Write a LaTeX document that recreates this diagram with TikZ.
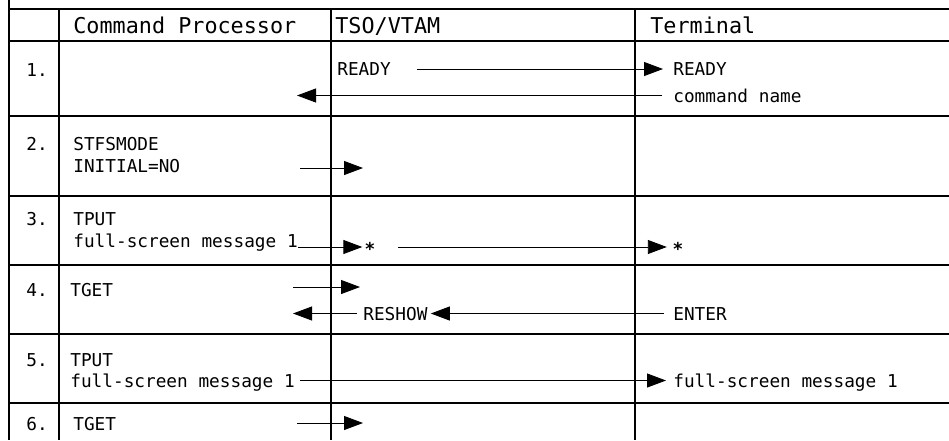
\documentclass[tikz,border=0pt]{standalone}
\usepackage{fontspec}
\setmonofont{DejaVu Sans Mono}
\usetikzlibrary{arrows.meta}
\tikzset{
  cell/.style={font=\ttfamily\fontsize{10.1}{12}\selectfont, anchor=west, inner sep=0pt, text height=0.26cm, text depth=0pt},
  head/.style={font=\ttfamily\fontsize{12.4}{14}\selectfont, anchor=base west, inner sep=0pt},
  starnode/.style={font=\ttfamily\bfseries\fontsize{10.1}{12}\selectfont, anchor=base, inner sep=0pt},
  flow/.style={line width=0.5pt, -{Triangle[length=0.38cm,width=0.28cm]}},
  rule/.style={line width=0.6pt},
}
\begin{document}
\begin{tikzpicture}[x=0.02cm,y=-0.02cm]
  \useasboundingbox (0,0) rectangle (949,440);
  %% table
  \draw[rule] (9,0) -- (9,440);
  \foreach \x in {59,331,635} \draw[rule] (\x,9) -- (\x,440);
  \foreach \y in {9,41,116,196,265,334,403} \draw[rule] (9,\y) -- (949,\y);
  %% header
  \node[head] (hcp) at (73,33) {Command Processor};
  \node[head] (htso) at (335,33) {TSO/VTAM};
  \node[head] (hterm) at (650,33) {Terminal};
  %% row 1
  \node[cell] (n1) at (26,69.5) {1.};
  \node[cell] (tsoready) at (337,69) {READY};
  \node[cell] (termready) at (673,69) {READY};
  \node[cell] (cmdname) at (673,95.5) {command name};
  \coordinate (c1) at (297,95.5);
  \draw[flow,shorten <=0.52cm,shorten >=0.2cm] (tsoready.east) -- (termready.west);
  \draw[flow,shorten <=0.22cm] (cmdname.west) -- (cmdname.west -| c1);
  %% row 2
  \node[cell] (n2) at (26,143.5) {2.};
  \node[cell] (stfs) at (73,143.5) {STFSMODE};
  \node[cell] (initial) at (73,165.5) {INITIAL=NO};
  \coordinate (a2s) at (300,168);
  \coordinate (a2e) at (363,168);
  \draw[flow] (a2s) -- (a2e);
  %% row 3
  \node[cell] (n3) at (26,218.5) {3.};
  \node[cell] (tput3) at (73,218.5) {TPUT};
  \node[cell] (msg3) at (73,240.5) {full-screen message 1};
  \node[starnode] (star1) at (370,255) {*};
  \node[starnode] (star2) at (678,255) {*};
  \coordinate (a3) at (398,247);
  \draw[flow,shorten >=0.04cm] (msg3.base east) -- (msg3.base east -| star1.west);
  \draw[flow,shorten >=0.11cm] (a3) -- (a3 -| star2.west);
  %% row 4
  \node[cell] (n4) at (26,289.5) {4.};
  \node[cell] (tget4) at (70,289.5) {TGET};
  \node[cell] (reshow) at (363,313.5) {RESHOW};
  \node[cell] (enter) at (673,313.5) {ENTER};
  \coordinate (a4s) at (293,287);
  \coordinate (a4e) at (360,287);
  \coordinate (c4) at (293,313.5);
  \draw[flow] (a4s) -- (a4e);
  \draw[flow,shorten <=0.12cm] (reshow.west) -- (reshow.west -| c4);
  \draw[flow,shorten <=0.18cm,shorten >=0.06cm] (enter.west) -- (reshow.east);
  %% row 5
  \node[cell] (n5) at (26,359.5) {5.};
  \node[cell] (tput5) at (70,359.5) {TPUT};
  \node[cell] (msg5) at (70,380.5) {full-screen message 1};
  \node[cell] (termmsg5) at (673,380.5) {full-screen message 1};
  \draw[flow,shorten <=0.1cm,shorten >=0.14cm] (msg5.east) -- (termmsg5.west);
  %% row 6
  \node[cell] (n6) at (26,423.5) {6.};
  \node[cell] (tget6) at (73,423.5) {TGET};
  \coordinate (a6s) at (297,423);
  \coordinate (a6e) at (363,423);
  \draw[flow] (a6s) -- (a6e);
\end{tikzpicture}
\end{document}
